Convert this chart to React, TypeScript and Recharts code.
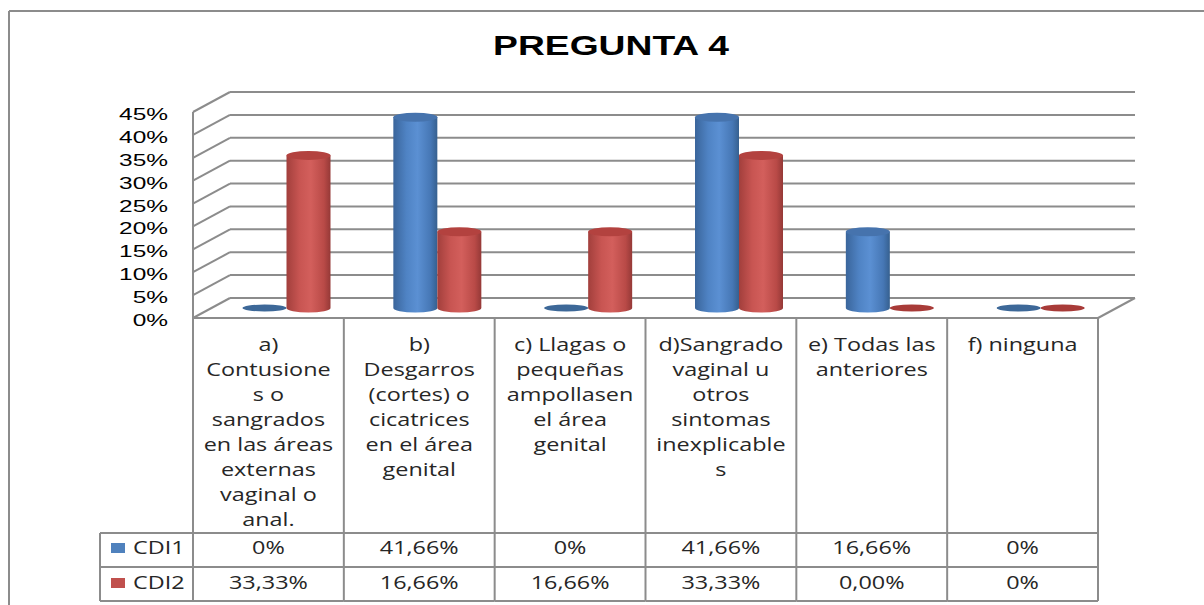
import React from 'react';
import { BarChart, Bar, XAxis, YAxis, CartesianGrid, ReferenceArea } from 'recharts';

const categories = ['a', 'b', 'c', 'd', 'e', 'f'];
const categoryLines = [
  ['a)', 'Contusione', 's o', 'sangrados', 'en las áreas', 'externas', 'vaginal o', 'anal.'],
  ['b)', 'Desgarros', '(cortes) o', 'cicatrices', 'en el área', 'genital'],
  ['c) Llagas o', 'pequeñas', 'ampollasen', 'el área', 'genital'],
  ['d)Sangrado', 'vaginal u', 'otros', 'sintomas', 'inexplicable', 's'],
  ['e) Todas las', 'anteriores'],
  ['f) ninguna'],
];
const cdi1 = [0, 41.66, 0, 41.66, 16.66, 0];
const cdi2 = [33.33, 16.66, 16.66, 33.33, 0, 0];
const cdi1Labels = ['0%', '41,66%', '0%', '41,66%', '16,66%', '0%'];
const cdi2Labels = ['33,33%', '16,66%', '16,66%', '33,33%', '0,00%', '0%'];
const yTicks = [0, 5, 10, 15, 20, 25, 30, 35, 40, 45];

const data = categories.map((cat, i) => ({ cat, cdi1: cdi1[i], cdi2: cdi2[i] }));

// layout
const W = 1204;
const H = 605;
const MARGIN = { top: 102, right: 87.5, bottom: 17, left: 151.5 };
const Y_AXIS_W = 60;
const X_AXIS_H = 280;
const PLOT_W = W - MARGIN.left - MARGIN.right - Y_AXIS_W;
const BAND = PLOT_W / categories.length;
const DX = 18.5; // half depth (x)
const DY = 10; // half depth (y)
const GRID = '#8c8c8c';
const TEXT = '#262626';
const STRETCH = 1.3;

const TABLE_TOP = 318;
const ROW1 = 533;
const ROW2 = 567;
const ROW3 = 601;
const LEGEND_LEFT = 100;

const SText = ({ x, y, sx = STRETCH, anchor = 'middle', size = 18, children, family = '"Open Sans", sans-serif', weight = 'normal', fill = TEXT }: any) => (
  <text
    transform={`translate(${x},${y}) scale(${sx},1)`}
    textAnchor={anchor}
    fontSize={size}
    fontFamily={family}
    fontWeight={weight}
    fill={fill}
  >
    {children}
  </text>
);

const makeCylinder = (name: string, stops: string[], top: string, flat: string) => (props: any) => {
  const { x, y, width, height, index } = props;
  const rx = width / 2;
  const cx = x + rx;
  if (!height || height < 0.5) {
    return <ellipse cx={cx} cy={y + (height || 0)} rx={rx} ry={3.5} fill={flat} />;
  }
  const ry = 4.5;
  const bottom = y + height;
  const id = `${name}-grad-${index}`;
  const d = `M${x},${y} L${x},${bottom} A${rx},${ry} 0 0 0 ${x + width},${bottom} L${x + width},${y} Z`;
  return (
    <g>
      <defs>
        <linearGradient id={id} x1="0" y1="0" x2="1" y2="0">
          <stop offset="0" stopColor={stops[0]} />
          <stop offset="0.3" stopColor={stops[1]} />
          <stop offset="0.55" stopColor={stops[2]} />
          <stop offset="0.85" stopColor={stops[3]} />
          <stop offset="1" stopColor={stops[4]} />
        </linearGradient>
      </defs>
      <path d={d} fill={`url(#${id})`} />
      <ellipse cx={cx} cy={y} rx={rx} ry={ry} fill={top} />
    </g>
  );
};

const BlueCylinder = makeCylinder('cdi1', ['#3a659b', '#4f83c4', '#5b90d3', '#4677b5', '#36608f'], '#4673ad', '#3d6898');
const RedCylinder = makeCylinder('cdi2', ['#a23f3c', '#c85552', '#d35f5c', '#b94a47', '#953937'], '#b3423f', '#a83b38');

const GridLine = (props: any) => {
  const { x1, x2, y1, index } = props;
  return (
    <g key={`g-${index}`}>
      <line x1={x1 + DX} y1={y1 - DY} x2={x2 + DX} y2={y1 - DY} stroke={GRID} strokeWidth={2} />
      <line x1={x1 - DX} y1={y1 + DY} x2={x1 + DX} y2={y1 - DY} stroke={GRID} strokeWidth={2} />
    </g>
  );
};

const WallFrame = (props: any) => {
  const { x, y, width, height } = props;
  const fy = y + height + DY;
  return (
    <g>
      <line x1={x - DX} y1={y + DY} x2={x - DX} y2={fy} stroke={GRID} strokeWidth={2} />
      <line x1={x - DX} y1={fy} x2={x + width - DX} y2={fy} stroke={GRID} strokeWidth={2} />
      <line x1={x + width - DX} y1={fy} x2={x + width + DX} y2={y + height - DY} stroke={GRID} strokeWidth={2} />
    </g>
  );
};

const YTick = (props: any) => {
  const { y, payload } = props;
  return (
    <SText x={168} y={y + 18} sx={1.44} anchor="end" size={17} family='"Liberation Sans", Arial, sans-serif' fill="#000">
      {`${payload.value}%`}
    </SText>
  );
};

const CategoryCell = (props: any) => {
  const { x, index } = props;
  const cx = x - DX;
  const left = cx - BAND / 2;
  const right = cx + BAND / 2;
  const lines = categoryLines[index] || [];
  const isLast = index === categories.length - 1;
  return (
    <g>
      <line x1={left} y1={TABLE_TOP} x2={left} y2={ROW3} stroke={GRID} strokeWidth={2} />
      {isLast && <line x1={right} y1={TABLE_TOP} x2={right} y2={ROW3} stroke={GRID} strokeWidth={2} />}
      <line x1={left} y1={ROW1} x2={right} y2={ROW1} stroke={GRID} strokeWidth={2} />
      <line x1={left} y1={ROW2} x2={right} y2={ROW2} stroke={GRID} strokeWidth={2} />
      <line x1={left} y1={ROW3} x2={right} y2={ROW3} stroke={GRID} strokeWidth={2} />
      {lines.map((t, i) => (
        <SText key={i} x={cx} y={351 + i * 25}>{t}</SText>
      ))}
      <SText x={cx} y={554}>{cdi1Labels[index]}</SText>
      <SText x={cx} y={589}>{cdi2Labels[index]}</SText>
      {index === 0 && (
        <g>
          <line x1={LEGEND_LEFT} y1={ROW1} x2={left} y2={ROW1} stroke={GRID} strokeWidth={2} />
          <line x1={LEGEND_LEFT} y1={ROW2} x2={left} y2={ROW2} stroke={GRID} strokeWidth={2} />
          <line x1={LEGEND_LEFT} y1={ROW3} x2={left} y2={ROW3} stroke={GRID} strokeWidth={2} />
          <line x1={LEGEND_LEFT} y1={ROW1} x2={LEGEND_LEFT} y2={ROW3} stroke={GRID} strokeWidth={2} />
          <rect x={111} y={543} width={14} height={10} fill="#4f81bd" />
          <rect x={111} y={578} width={14} height={10} fill="#c0504d" />
          <SText x={133} y={554} anchor="start">CDI1</SText>
          <SText x={133} y={589} anchor="start">CDI2</SText>
        </g>
      )}
    </g>
  );
};

export default function App() {
  return (
    <div style={{ position: 'absolute', left: 0, top: 0, width: W, height: H, background: '#fff' }}>
      <svg width={W} height={H} style={{ position: 'absolute', left: 0, top: 0 }}>
        <line x1={9} y1={11} x2={W} y2={11} stroke={GRID} strokeWidth={2} />
        <line x1={9} y1={11} x2={9} y2={H} stroke={GRID} strokeWidth={2} />
        <SText x={611} y={55} sx={1.33} size={28} weight="bold" family='"Liberation Sans", Arial, sans-serif' fill="#000">
          PREGUNTA 4
        </SText>
      </svg>
      <div style={{ position: 'absolute', left: 0, top: 0 }}>
        <BarChart width={W} height={H} data={data} margin={MARGIN} barGap={0} barSize={44}>
          <CartesianGrid vertical={false} horizontal={GridLine} stroke={GRID} />
          <ReferenceArea y1={0} y2={45} ifOverflow="visible" shape={WallFrame} fill="none" />
          <XAxis
            dataKey="cat"
            height={X_AXIS_H}
            axisLine={false}
            tickLine={false}
            interval={0}
            tick={CategoryCell}
          />
          <YAxis
            width={Y_AXIS_W}
            domain={[0, 45]}
            ticks={yTicks}
            interval={0}
            axisLine={false}
            tickLine={false}
            tick={YTick}
          />
          <Bar dataKey="cdi1" name="CDI1" fill="#4f81bd" shape={BlueCylinder} isAnimationActive={false} />
          <Bar dataKey="cdi2" name="CDI2" fill="#c0504d" shape={RedCylinder} isAnimationActive={false} />
        </BarChart>
      </div>
    </div>
  );
}
